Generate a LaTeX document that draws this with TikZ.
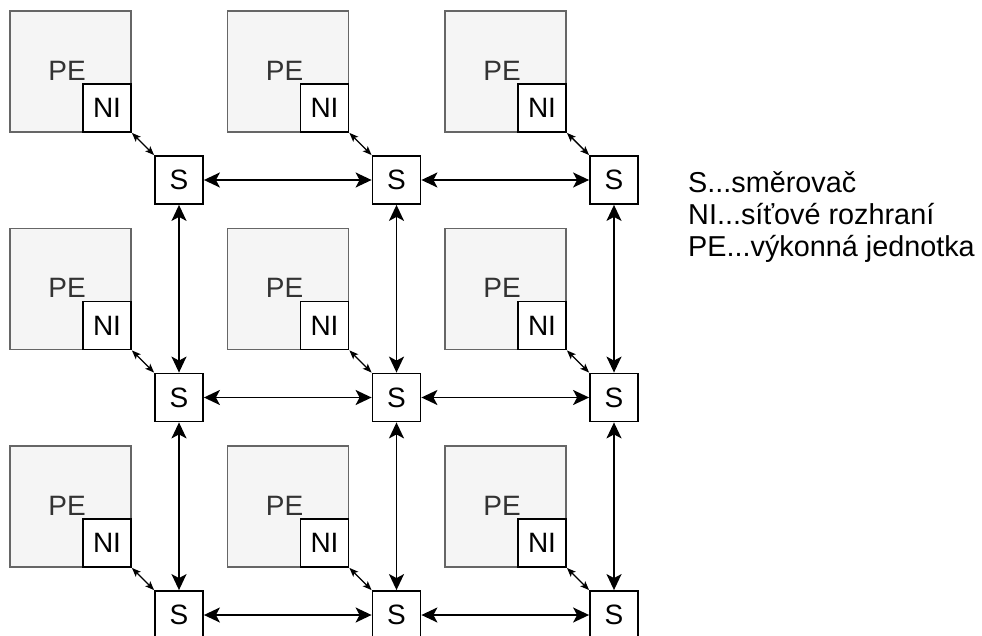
\documentclass[tikz,border=0pt]{standalone}
\usepackage{fontspec}
\setmainfont{Liberation Sans}
\usetikzlibrary{arrows.meta,positioning}
\definecolor{pegray}{HTML}{F5F5F5}
\definecolor{peborder}{HTML}{666666}
\definecolor{petext}{HTML}{333333}

\begin{document}
\begin{tikzpicture}[x=1pt, y=-1pt,
    pebox/.style={rectangle, draw=peborder, fill=pegray, line width=1.8pt, minimum size=121pt, inner sep=0pt, font=\fontsize{28}{32}\selectfont, text=petext},
    nibox/.style={rectangle, draw=black, fill=white, line width=1.8pt, minimum size=48pt, inner sep=0pt, font=\fontsize{28}{32}\selectfont},
    sbox/.style={rectangle, draw=black, fill=white, line width=1.8pt, minimum size=48pt, inner sep=0pt, font=\fontsize{28}{32}\selectfont},
    link/.style={{Stealth[length=16pt,width=15pt,inset=4pt]}-{Stealth[length=16pt,width=15pt,inset=4pt]}, line width=1.8pt},
    nilink/.style={{Stealth[length=9pt,width=7pt,inset=2pt]}-{Stealth[length=9pt,width=7pt,inset=2pt]}, line width=1.4pt}
]
\useasboundingbox (0,0) rectangle (982,636);
\clip (0,0) rectangle (982,636);

% processing elements, interfaces and switches
\foreach \r in {0,1,2} {
  \foreach \c in {0,1,2} {
    \node[pebox] (pe\r\c) at ({70.5+217.5*\c},{71.5+217.5*\r}) {\hspace*{-7pt}\raisebox{2pt}{PE}};
    \node[nibox, anchor=south east] (ni\r\c) at (pe\r\c.south east) {NI};
    \node[sbox] (s\r\c) at ({179+217.5*\c},{180+217.5*\r}) {S};
    \draw[nilink] (ni\r\c.south east) -- (s\r\c.north west);
  }
}

% mesh links
\foreach \r in {0,1,2} {
  \draw[link] (s\r0) -- (s\r1);
  \draw[link] (s\r1) -- (s\r2);
}
\foreach \c in {0,1,2} {
  \draw[link] (s0\c) -- (s1\c);
  \draw[link] (s1\c) -- (s2\c);
}

% legend
\node[anchor=west, align=left, inner sep=0pt, font=\fontsize{28.8}{32}\selectfont] (legend) at (688,217) {S...směrovač\\NI...síťové rozhraní\\PE...výkonná jednotka};
\end{tikzpicture}
\end{document}
